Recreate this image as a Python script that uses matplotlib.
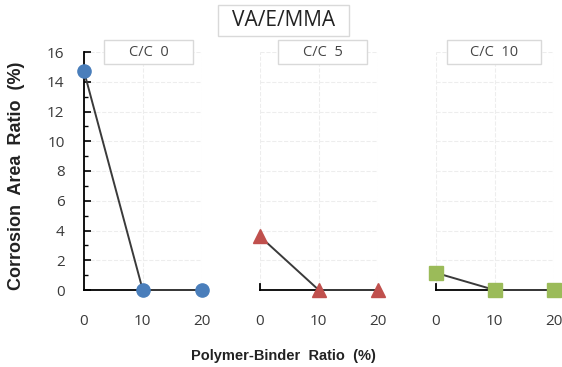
import numpy as np
import matplotlib.pyplot as plt
from matplotlib.patches import Rectangle

plt.rcParams['font.family'] = ['Open Sans', 'DejaVu Sans']

ratio = [0, 10, 20]
panels = ['C/C 0', 'C/C 5', 'C/C 10']
corrosion = [[14.7, 0, 0],
             [3.6, 0, 0],
             [1.15, 0, 0]]
markers = ['o', '^', 's']
colors = ['#4A7EBB', '#C0504D', '#9BBB59']

W, H = 562, 367
fig = plt.figure(figsize=(W / 100, H / 100), dpi=100)

lefts = [84, 260, 436]
box_x = [(104, 193), (278, 367), (447, 541)]
for i in range(3):
    ax = fig.add_axes([lefts[i] / W, 77 / H, 117.5 / W, 238 / H])
    ax.plot(ratio, corrosion[i], color='#3A3A3A', lw=1.4, zorder=3, clip_on=False)
    ax.plot(ratio, corrosion[i], ls='none', marker=markers[i], ms=9.5,
            color=colors[i], zorder=4, clip_on=False)
    ax.set_xlim(0, 20)
    ax.set_ylim(0, 16)
    ax.set_xticks(ratio)
    ax.set_yticks(np.arange(0, 17, 2))
    ax.grid(True, color='#EDEDED', lw=0.8, ls='--')
    ax.set_axisbelow(True)
    for s in ['top', 'right']:
        ax.spines[s].set_visible(False)
    ax.spines['bottom'].set_color('black')
    ax.spines['bottom'].set_linewidth(1.3)
    ax.spines['left'].set_color('black')
    ax.spines['left'].set_linewidth(1.3)
    ax.tick_params(axis='x', length=0, pad=17, labelsize=11, colors='#3A3A3A')
    if i == 0:
        ax.set_yticks(np.arange(1, 16, 2), minor=True)
        ax.tick_params(axis='y', which='major', direction='in', length=5,
                       width=1.2, pad=14, labelsize=11)
        ax.tick_params(axis='y', which='minor', direction='in', length=3, width=1.0)
        ax.tick_params(axis='y', labelcolor='#3A3A3A', color='black')
    else:
        ax.spines['left'].set_bounds(0, 0.4)
        ax.tick_params(axis='y', length=0, labelleft=False)
    # panel label box
    x0, x1 = box_x[i]
    fig.patches.append(Rectangle((x0 / W, (H - 64) / H), (x1 - x0) / W, 24 / H,
                                 transform=fig.transFigure, fill=True, fc='white',
                                 ec='#D9D9D9', lw=1, zorder=5))
    fig.text((x0 + x1) / 2 / W, (H - 52) / H, panels[i].replace(' ', '  '),
             ha='center', va='center', fontsize=10.5, color='#444444', zorder=6)

# title box
fig.patches.append(Rectangle((218 / W, (H - 36) / H), 131 / W, 31 / H,
                             transform=fig.transFigure, fill=True, fc='white',
                             ec='#D9D9D9', lw=1, zorder=5))
fig.text(284 / W, (H - 20.5) / H, 'VA/E/MMA', ha='center', va='center',
         fontsize=15, color='#222222', zorder=6)

fig.text(17 / W, (H - 176) / H, 'Corrosion  Area  Ratio  (%)', rotation=90,
         ha='center', va='center', fontsize=13, fontweight='bold', color='#222222',
         family=['Liberation Sans', 'DejaVu Sans'])
fig.text(283 / W, (H - 356) / H, 'Polymer-Binder  Ratio  (%)', ha='center',
         va='center', fontsize=10.5, fontweight='bold', color='#222222',
         family=['Liberation Sans', 'DejaVu Sans'])

plt.savefig('out.png', dpi=100)
